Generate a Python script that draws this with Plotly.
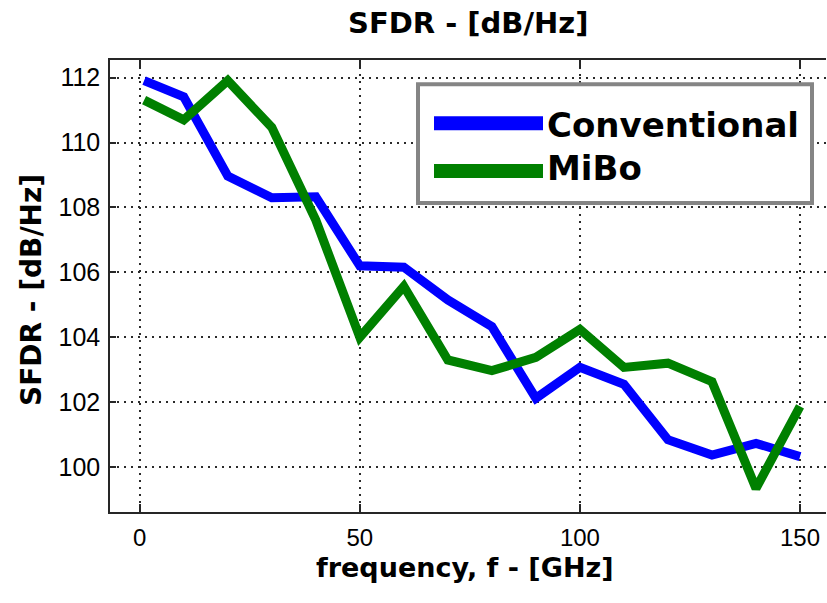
import plotly.graph_objects as go

freq = [1, 10, 20, 30, 40, 50, 60, 70, 80, 90, 100, 110, 120, 130, 140, 150]
conventional = [111.91, 111.41, 108.97, 108.30, 108.33, 106.20, 106.16, 105.15,
                104.33, 102.12, 103.07, 102.55, 100.84, 100.37, 100.73, 100.32]
mibo = [111.31, 110.70, 111.91, 110.47, 107.61, 104.00, 105.57, 103.30,
        102.97, 103.38, 104.24, 103.07, 103.20, 102.63, 99.34, 101.87]
series_names = ["Conventional", "MiBo"]
series_colors = ["#0000FF", "#008000"]
x_ticks = [0, 50, 100, 150]
y_ticks = [100, 102, 104, 106, 108, 110, 112]

title_text = "SFDR - [dB/Hz]"
x_label = "frequency, f - [GHz]"
y_label = "SFDR - [dB/Hz]"

fig = go.Figure()
for name, ys, col in zip(series_names, [conventional, mibo], series_colors):
    fig.add_trace(go.Scatter(x=freq, y=ys, mode="lines", name=name,
                             line=dict(color=col, width=9), showlegend=False))

axis_col = "#262626"
grid = dict(showgrid=True, gridcolor="#2a2a2a", gridwidth=1.6, griddash="2px,5px")

fig.update_xaxes(range=[-6.75, 155.9], tickvals=x_ticks, ticktext=[str(v) for v in x_ticks],
                 ticks="inside", ticklen=8, tickwidth=1.5, tickcolor=axis_col,
                 showline=True, linecolor=axis_col, linewidth=1.5, mirror="ticks",
                 zeroline=False,
                 tickfont=dict(family="Liberation Sans Narrow, Liberation Sans, Arial", size=24, color="black"),
                 ticklabelstandoff=3, **grid)
fig.update_yaxes(range=[98.613, 112.546], tickvals=y_ticks, ticktext=[str(v) for v in y_ticks],
                 ticks="inside", ticklen=6, tickwidth=1.5, tickcolor=axis_col,
                 showline=True, linecolor=axis_col, linewidth=1.5, mirror=False,
                 zeroline=False,
                 tickfont=dict(family="Liberation Sans, Arial", size=25, color="black"),
                 ticklabelstandoff=3, **grid)

W, H = 827, 603
L, R, T, B = 110, 826, 60, 512


def px(xp):
    return (xp - L) / (R - L)


def py(yp):
    return (B - yp) / (B - T)


shapes = []
annotations = []
# legend box
shapes.append(dict(type="rect", xref="paper", yref="paper",
                   x0=px(418), x1=px(812), y0=py(203), y1=py(84.3),
                   line=dict(color="#858585", width=4), fillcolor="white", layer="above"))
legend_rows = [123.3, 171.0]
legend_text_rows = [125.0, 168.0]
for name, col, yl, yt in zip(series_names, series_colors, legend_rows, legend_text_rows):
    shapes.append(dict(type="line", xref="paper", yref="paper",
                       x0=px(434), x1=px(543), y0=py(yl), y1=py(yl),
                       line=dict(color=col, width=14), layer="above"))
    annotations.append(dict(text=name, xref="paper", yref="paper", x=px(545), y=py(yt),
                            xanchor="left", yanchor="middle", showarrow=False,
                            font=dict(family="DejaVu Sans", size=34, color="black", weight="bold")))

# title and axis labels
annotations.append(dict(text=title_text, xref="paper", yref="paper", x=px(468), y=py(23),
                        xanchor="center", yanchor="middle", showarrow=False,
                        font=dict(family="DejaVu Sans", size=29, color="black", weight="bold")))
annotations.append(dict(text=x_label, xref="paper", yref="paper", x=px(464.5), y=py(567),
                        xanchor="center", yanchor="middle", showarrow=False,
                        font=dict(family="DejaVu Sans", size=27, color="black", weight="bold")))
annotations.append(dict(text=y_label, xref="paper", yref="paper", x=px(31), y=py(290),
                        xanchor="center", yanchor="middle", showarrow=False, textangle=-90,
                        font=dict(family="DejaVu Sans", size=28, color="black", weight="bold")))

fig.update_layout(width=W, height=H, margin=dict(l=L, r=W - R, t=T, b=H - B),
                  plot_bgcolor="white", paper_bgcolor="white",
                  shapes=shapes, annotations=annotations, showlegend=False)

fig.write_html("out.html")
